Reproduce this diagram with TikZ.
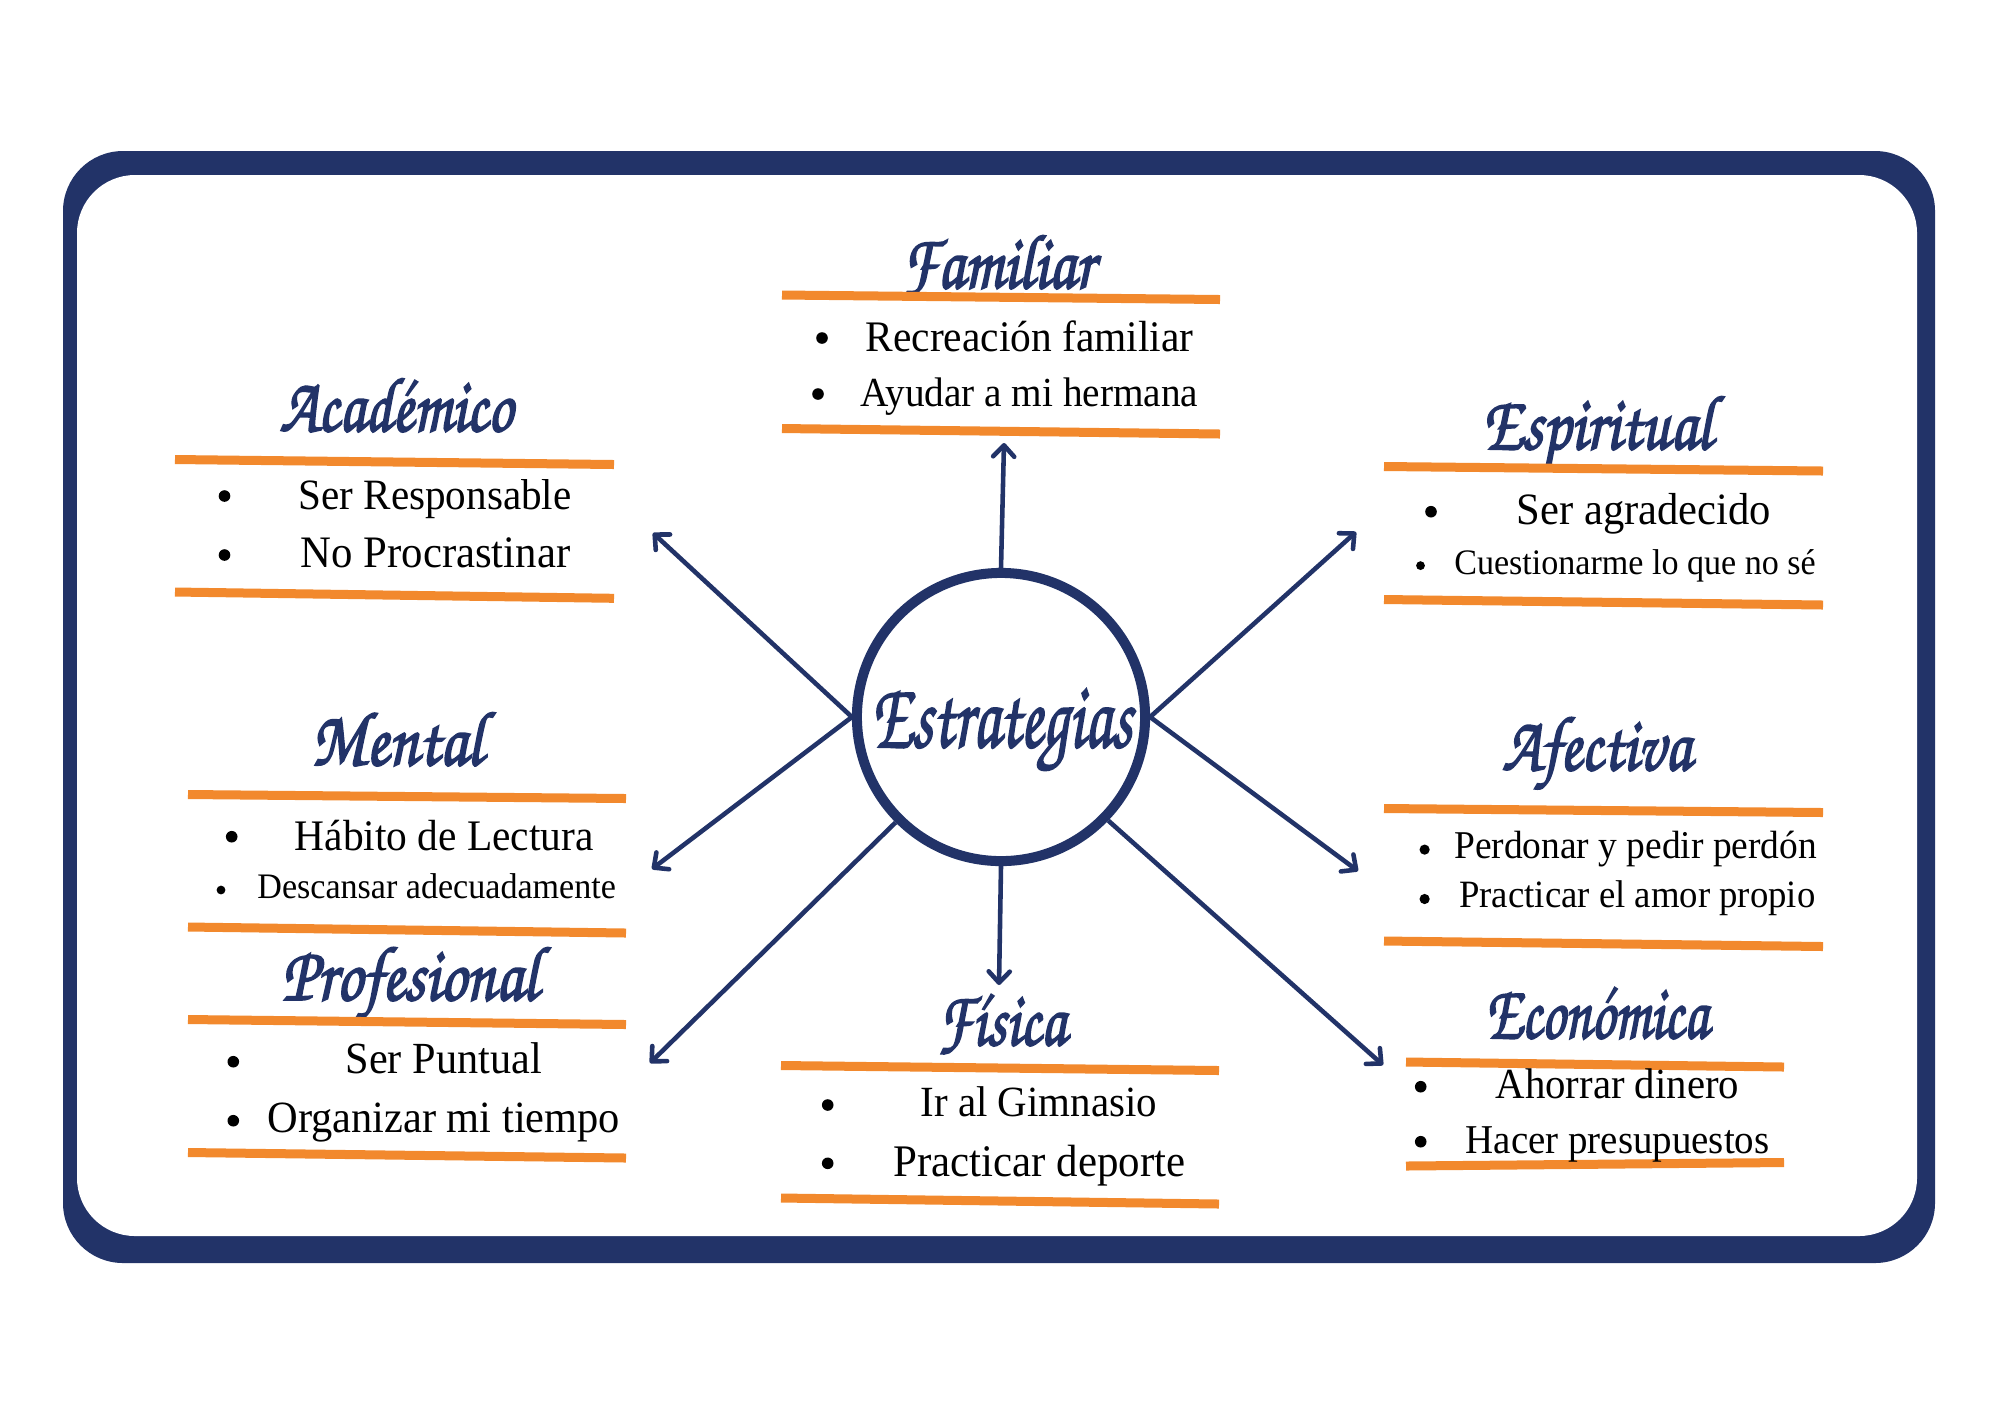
\documentclass[tikz,border=0pt]{standalone}
\usepackage[T1]{fontenc}
\usepackage{fontspec}
\usepackage{graphicx}
\usetikzlibrary{arrows.meta}

\newfontfamily\itemfont[FakeStretch=0.95]{Liberation Serif}
\newcommand\scriptface{\fontencoding{T1}\fontfamily{pzc}\fontseries{mb}\fontshape{it}\selectfont}
\newcommand\itemsize[1]{\itemfont\fontsize{#1pt}{#1pt}\selectfont}
\newcommand\headsize[1]{\scriptface\fontsize{#1pt}{#1pt}\selectfont}
% condensed, stroked script lettering for the headings
\newcommand\brush[2]{\scalebox{#1}[1]{\special{pdf:literal direct 2 Tr 0.55 w}#2\special{pdf:literal direct 0 Tr}}}

\definecolor{navy}{RGB}{34,51,104}
\definecolor{tangerine}{RGB}{242,137,45}

\tikzset{
  hub/.style={circle, draw=navy, line width=2.85pt, minimum size=2.88cm, inner sep=0pt},
  link/.style={navy, line width=1.3pt, -{Straight Barb[length=3.2pt,width=6pt,round]}},
  rule/.style={tangerine, line width=2.56pt},
  head/.style={anchor=base, inner sep=0pt, text=navy, font=\headsize{22}},
  entry/.style={anchor=base west, inner sep=0pt, text=black},
  dot/.style={fill=black},
}

\begin{document}
\begin{tikzpicture}[x=0.01cm, y=-0.01cm]
\useasboundingbox (0,0) rectangle (2000,1414);
\fill[white] (0,0) rectangle (2000,1414);

% rounded frame
\fill[navy, rounded corners=0.6cm] (63,151) rectangle (1935,1263);
\fill[white, rounded corners=0.58cm] (77,175) rectangle (1917,1236);

% central hub
\node[hub] (hub) at (1001,717) {};
\node[head, font=\headsize{27}] (hubtext) at (1002,747) {\brush{0.68}{Estrategias}};

% arrow ends
\coordinate (aT)  at (1004,443);
\coordinate (aUL) at (653,533);
\coordinate (aLL) at (652,869);
\coordinate (aBL) at (650,1063);
\coordinate (aB)  at (999,985);
\coordinate (aBR) at (1383,1065);
\coordinate (aLR) at (1358,871);
\coordinate (aUR) at (1356,532);

\draw[link] (hub.north) -- (aT);
\draw[link] (hub.west) -- (aUL);
\draw[link] (hub.west) -- (aLL);
\draw[link] (hub.225) -- (aBL);
\draw[link] (hub.south) -- (aB);
\draw[link] (hub.-44) -- (aBR);
\draw[link] (hub.east) -- (aLR);
\draw[link] (hub.east) -- (aUR);

% Familiar
\node[head] (famT) at (997.5,288) {\brush{0.815}{Familiar}};
\draw[rule] (782,295) -- (1220,299.5);
\draw[rule] (782,428.5) -- (1220,434);
\fill[dot] (822,338) circle[radius=1.65pt];
\fill[dot] (818,394) circle[radius=1.65pt];
\node[entry, font=\itemsize{12.4}] (fam1) at (865,351.7) {Recreación familiar};
\node[entry, font=\itemsize{11.75}] (fam2) at (860,406.7) {Ayudar a mi hermana};

% Académico
\node[head] (acaT) at (396,431) {\brush{0.8}{Académico}};
\draw[rule] (175,459.5) -- (614,464.5);
\draw[rule] (175,592) -- (614,598.3);
\fill[dot] (224.5,496) circle[radius=1.65pt];
\fill[dot] (224.5,555) circle[radius=1.65pt];
\node[entry, font=\itemsize{12.3}] (aca1) at (298,509) {Ser Responsable};
\node[entry, font=\itemsize{12.8}] (aca2) at (300,567.5) {No Procrastinar};

% Espiritual
\node[head] (espT) at (1597.5,449) {\brush{0.82}{Espiritual}};
\draw[rule] (1384,466.5) -- (1823,471);
\draw[rule] (1384,599.5) -- (1823,605);
\fill[dot] (1431,511.7) circle[radius=1.65pt];
\fill[dot] (1420.5,565.6) circle[radius=1.25pt];
\node[entry, font=\itemsize{12.75}] (esp1) at (1516,524) {Ser agradecido};
\node[entry, font=\itemsize{10.2}] (esp2) at (1453.6,574) {Cuestionarme lo que no sé};

% Afectiva
\node[head] (afeT) at (1596.5,770) {\brush{0.805}{Afectiva}};
\draw[rule] (1384,808.5) -- (1823,812.5);
\draw[rule] (1384,941) -- (1823,946.5);
\fill[dot] (1424.6,849.6) circle[radius=1.45pt];
\fill[dot] (1424.6,899) circle[radius=1.45pt];
\node[entry, font=\itemsize{11.2}] (afe1) at (1453.6,858) {Perdonar y pedir perdón};
\node[entry, font=\itemsize{11.0}] (afe2) at (1458.6,907.6) {Practicar el amor propio};

% Mental
\node[head] (menT) at (397,765) {\brush{0.845}{Mental}};
\draw[rule] (188,794.5) -- (626,798.5);
\draw[rule] (188,927) -- (626,933);
\fill[dot] (231.7,836.7) circle[radius=1.65pt];
\fill[dot] (221,890) circle[radius=1.25pt];
\node[entry, font=\itemsize{12.4}] (men1) at (294,850) {Hábito de Lectura};
\node[entry, font=\itemsize{10.2}] (men2) at (256.7,898.3) {Descansar adecuadamente};

% Profesional
\node[head] (proT) at (410,1000) {\brush{0.833}{Profesional}};
\draw[rule] (188,1019.5) -- (626,1024.5);
\draw[rule] (188,1152.5) -- (626,1158);
\fill[dot] (233.3,1061.7) circle[radius=1.65pt];
\fill[dot] (233.3,1120.7) circle[radius=1.65pt];
\node[entry, font=\itemsize{12.65}] (pro1) at (345,1073.3) {Ser Puntual};
\node[entry, font=\itemsize{12.7}] (pro2) at (266.7,1132.7) {Organizar mi tiempo};

% Física
\node[head] (fisT) at (1001.7,1045) {\brush{0.775}{Física}};
\draw[rule] (781,1065.5) -- (1219,1070.5);
\draw[rule] (781,1198) -- (1219,1204);
\fill[dot] (827.7,1105) circle[radius=1.65pt];
\fill[dot] (827.7,1163.3) circle[radius=1.65pt];
\node[entry, font=\itemsize{12.25}] (fis1) at (920,1116.7) {Ir al Gimnasio};
\node[entry, font=\itemsize{12.85}] (fis2) at (892.7,1176) {Practicar deporte};

% Económica
\node[head] (ecoT) at (1597,1038) {\brush{0.747}{Económica}};
\draw[rule] (1406,1062) -- (1784,1067);
\draw[rule] (1406,1166) -- (1784,1162.5);
\fill[dot] (1420.7,1086.7) circle[radius=1.65pt];
\fill[dot] (1420.7,1141.7) circle[radius=1.65pt];
\node[entry, font=\itemsize{12.2}] (eco1) at (1495,1098.3) {Ahorrar dinero};
\node[entry, font=\itemsize{11.65}] (eco2) at (1465,1153.3) {Hacer presupuestos};
\end{tikzpicture}
\end{document}
